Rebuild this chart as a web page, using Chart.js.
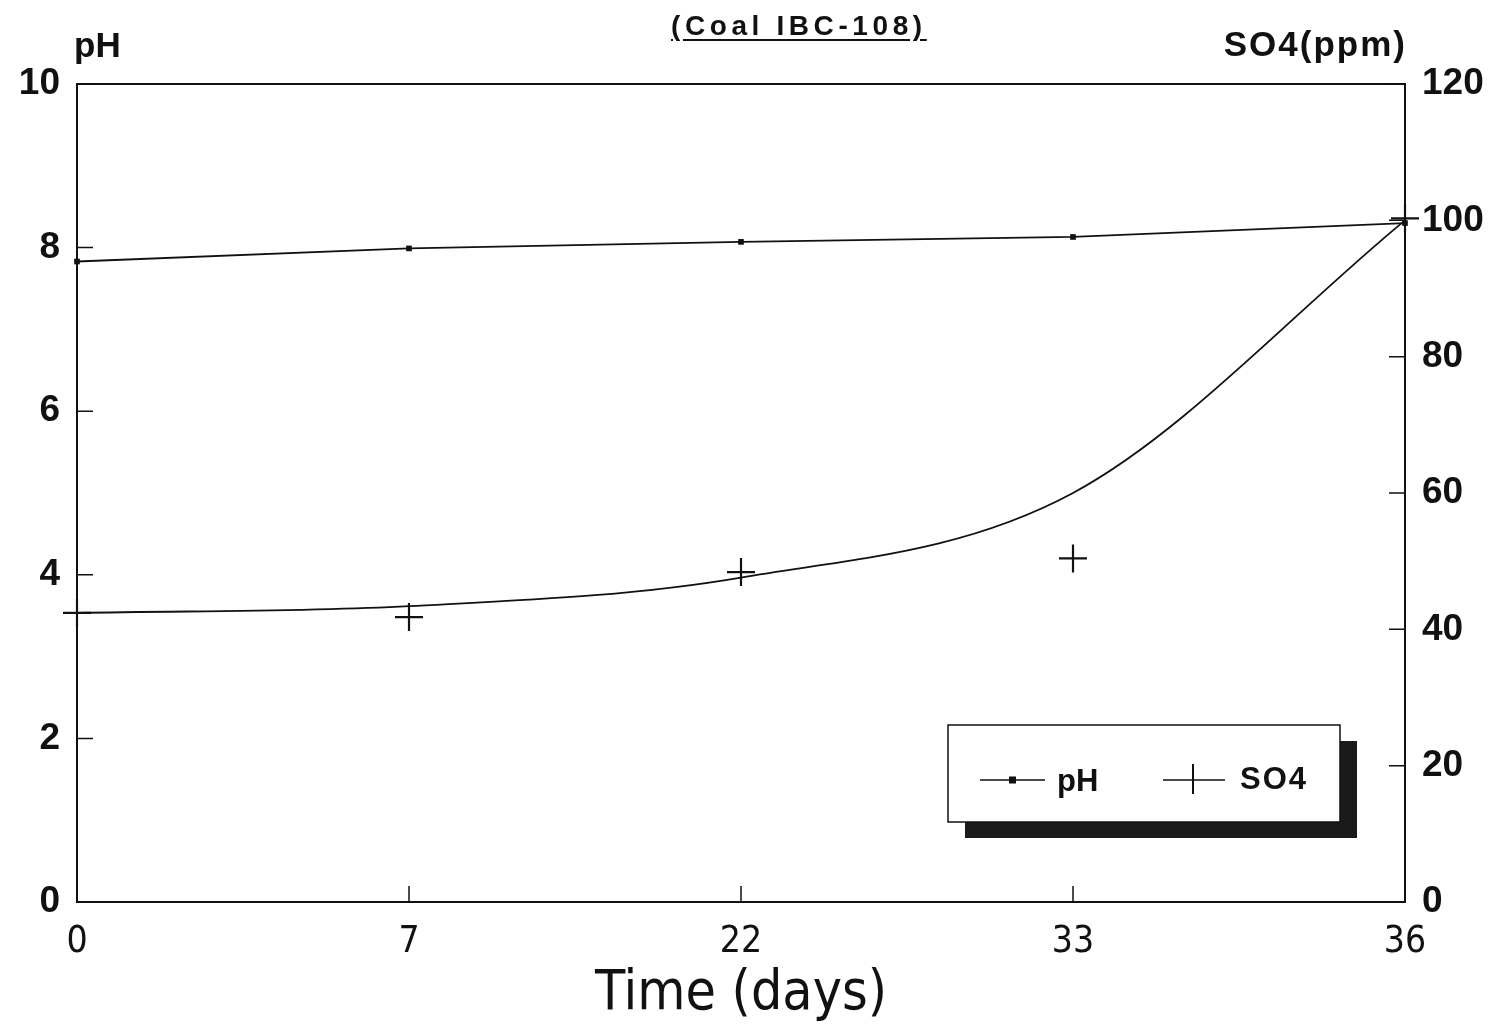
<!DOCTYPE html>
<html>
<head>
<meta charset="utf-8">
<script src="https://cdn.jsdelivr.net/npm/chart.js@4"></script>
<style>
    body { margin: 0; background: #fff; }
    #wrap { position: relative; width: 1501px; height: 1028px; }
    .lbl { position: absolute; font-family: "Liberation Sans", Arial, sans-serif; font-weight: bold; color: #111; white-space: nowrap; }
    #title { left: 671px; top: 10px; font-size: 28px; letter-spacing: 4.6px; text-decoration: underline; text-underline-offset: 4px; }
    #ph-title { left: 74px; top: 25px; font-size: 35px; }
    #so4-title { right: 94px; top: 24px; font-size: 35px; letter-spacing: 2px; }
</style>
</head>
<body>
<div id="wrap">
    <canvas id="chart"></canvas>
    <div class="lbl" id="title">(Coal IBC-108)</div>
    <div class="lbl" id="ph-title">pH</div>
    <div class="lbl" id="so4-title">SO4(ppm)</div>
</div>
<script>
// Дні відбору проб
const days = ['0', '7', '22', '33', '36'];
// pH (ліва вісь)
const phValues = [7.83, 7.99, 8.07, 8.13, 8.30];
// SO4, ppm (права вісь) — виміряні точки
const so4Values = [42.4, 41.8, 48.4, 50.4, 100.3];
// SO4 — згладжена крива, прочитана з рисунка в тих самих днях
const so4Curve = [42.4, 43.4, 47.6, 60.0, 100.0];

const phTicks = [0, 2, 4, 6, 8, 10];
const so4Ticks = [0, 20, 40, 60, 80, 100, 120];

const INK = '#111';
const LABEL_FONT = "'Liberation Sans', Arial, sans-serif";
const NARROW_FONT = "'Liberation Sans Narrow', 'DejaVu Sans Condensed', 'Liberation Sans', sans-serif";

// ─── Рамка, внутрішні засічки, легенда з тінню ─────────────────────────────

const framePlugin = {
    id: 'frame',
    afterDraw(chart) {
        const { ctx, chartArea: a, scales } = chart;
        ctx.save();
        ctx.strokeStyle = INK;
        ctx.lineWidth = 2;
        ctx.strokeRect(a.left, a.top, a.right - a.left, a.bottom - a.top);

        ctx.lineWidth = 1.5;
        ctx.beginPath();
        phTicks.forEach(v => {
            const y = scales.y.getPixelForValue(v);
            ctx.moveTo(a.left, y); ctx.lineTo(a.left + 16, y);
        });
        so4Ticks.forEach(v => {
            const y = scales.y1.getPixelForValue(v);
            ctx.moveTo(a.right, y); ctx.lineTo(a.right - 16, y);
        });
        days.forEach((d, i) => {
            const x = scales.x.getPixelForValue(i);
            ctx.moveTo(x, a.bottom); ctx.lineTo(x, a.bottom - 16);
        });
        ctx.stroke();

        // легенда
        const L = 948, T = 725, W = 392, H = 97;
        ctx.fillStyle = '#1a1a1a';
        ctx.fillRect(L + 17, T + 16, W, H);
        ctx.fillStyle = '#fff';
        ctx.fillRect(L, T, W, H);
        ctx.lineWidth = 1.5;
        ctx.strokeStyle = INK;
        ctx.strokeRect(L, T, W, H);

        const cy = T + 55;
        ctx.lineWidth = 1.5;
        ctx.beginPath();
        ctx.moveTo(980, cy); ctx.lineTo(1045, cy);
        ctx.moveTo(1163, cy); ctx.lineTo(1225, cy);
        ctx.stroke();
        ctx.fillStyle = INK;
        ctx.fillRect(1009, cy - 3.5, 7, 7);
        ctx.lineWidth = 2;
        ctx.beginPath();
        ctx.moveTo(1193, cy - 16); ctx.lineTo(1193, cy + 14);
        ctx.stroke();

        ctx.font = `bold 31px ${LABEL_FONT}`;
        ctx.textBaseline = 'middle';
        ctx.fillText('pH', 1057, cy + 2);
        ctx.letterSpacing = '2px';
        ctx.fillText('SO4', 1240, cy);
        ctx.restore();
    }
};

new Chart(document.getElementById('chart'), {
    type: 'line',
    data: {
        labels: days,
        datasets: [
            {
                label: 'pH',
                data: phValues,
                yAxisID: 'y',
                borderColor: INK,
                backgroundColor: INK,
                borderWidth: 1.8,
                tension: 0,
                pointStyle: 'rect',
                pointRadius: 4,
                pointBorderWidth: 0
            },
            {
                label: 'SO4',
                data: so4Values,
                yAxisID: 'y1',
                showLine: false,
                borderColor: INK,
                pointStyle: 'cross',
                pointRadius: 14,
                pointBorderWidth: 2.2
            },
            {
                label: 'SO4 curve',
                data: so4Curve,
                yAxisID: 'y1',
                borderColor: INK,
                borderWidth: 1.8,
                cubicInterpolationMode: 'monotone',
                pointRadius: 0
            }
        ]
    },
    options: {
        responsive: true,
        maintainAspectRatio: false,
        animation: false,
        layout: { padding: { top: 84, left: 0, right: 0, bottom: 0 } },
        plugins: {
            legend: { display: false },
            tooltip: { enabled: false }
        },
        scales: {
            x: {
                type: 'category',
                offset: false,
                grid: { display: false, drawTicks: false },
                border: { display: false },
                ticks: { color: INK, padding: 18, font: { family: NARROW_FONT, size: 37 } },
                title: {
                    display: true,
                    text: 'Time (days)',
                    color: INK,
                    padding: { top: 0, bottom: 0 },
                    font: { family: NARROW_FONT, size: 55 }
                },
                afterFit: s => { s.height = 126; }
            },
            y: {
                position: 'left',
                min: 0, max: 10,
                grid: { display: false, drawTicks: false },
                border: { display: false },
                ticks: { stepSize: 2, color: INK, padding: 17, font: { family: LABEL_FONT, size: 37, weight: 'bold' } },
                afterFit: s => { s.width = 77; }
            },
            y1: {
                position: 'right',
                min: 0, max: 120,
                grid: { display: false, drawTicks: false },
                border: { display: false },
                ticks: { stepSize: 20, color: INK, padding: 17, font: { family: LABEL_FONT, size: 37, weight: 'bold' } },
                afterFit: s => { s.width = 96; }
            }
        }
    },
    plugins: [framePlugin]
});
</script>
</body>
</html>
